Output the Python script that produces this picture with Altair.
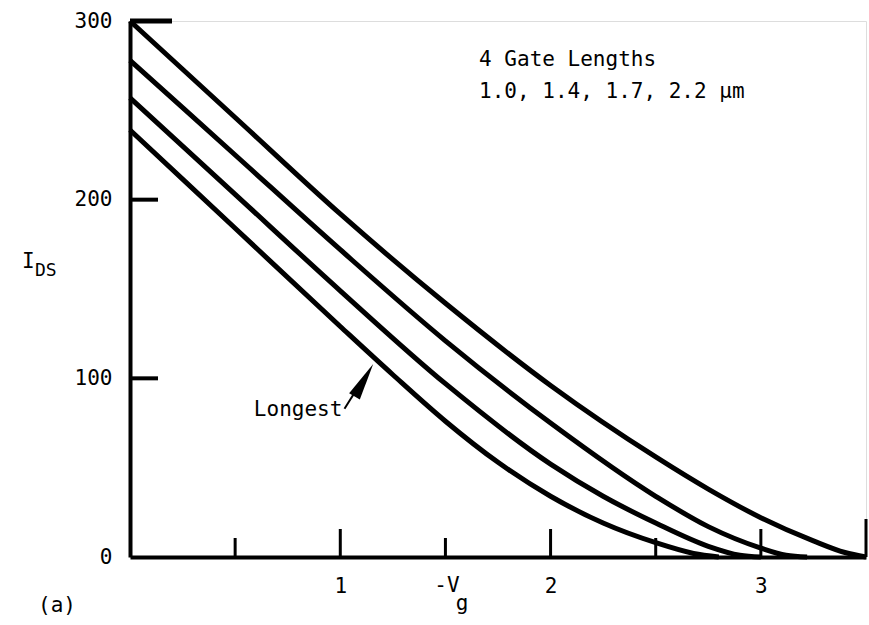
import altair as alt
import pandas as pd

# ---- data ----
gates = ["1.0", "1.4", "1.7", "2.2"]
vg_10 = [0, 0.5, 1.0, 1.5, 2.0, 2.5, 2.75, 3.0, 3.25, 3.4, 3.5]
ids_10 = [300, 246, 192, 142, 96, 56, 38, 22, 9, 2.5, 0]
vg_14 = [0, 0.5, 1.0, 1.5, 2.0, 2.5, 2.75, 3.0, 3.12, 3.22]
ids_14 = [278, 225, 172, 121, 75, 34, 17, 5, 1, 0]
vg_17 = [0, 0.5, 1.0, 1.5, 2.0, 2.25, 2.5, 2.75, 2.9, 3.0]
ids_17 = [257, 203, 149, 97, 52, 34, 19, 6, 1, 0]
vg_22 = [0, 0.5, 1.0, 1.25, 1.5, 1.75, 2.0, 2.25, 2.5, 2.68, 2.8]
ids_22 = [239, 184, 129, 102, 76, 53, 34, 19, 8, 2, 0]

x_label_vals = [1, 2, 3]
y_label_vals = [0, 100, 200, 300]
x_major_ticks = [1, 2, 3]
x_minor_ticks = [0.5, 1.5, 2.5]
x_end_tick = [3.5]
y_ticks = [100, 200]
y_top_tick = [300]

rows = []
for g, xs, ys in zip(gates, [vg_10, vg_14, vg_17, vg_22], [ids_10, ids_14, ids_17, ids_22]):
    for i, (a, b) in enumerate(zip(xs, ys)):
        rows.append({"gate": g, "vg": a, "ids": b, "k": i})
df = pd.DataFrame(rows)

W, H = 736, 536
FONT = "DejaVu Sans Mono"
FS = 21
xs_ = alt.Scale(domain=[0, 3.5], nice=False, zero=False)
ys_ = alt.Scale(domain=[0, 300], nice=False)

lines = alt.Chart(df).mark_line(color="black", strokeWidth=5, interpolate="monotone").encode(
    x=alt.X("vg:Q", scale=xs_, axis=alt.Axis(values=x_label_vals, ticks=False, grid=False, title=None,
                                              labelFontSize=FS, labelPadding=18, labelFont=FONT,
                                              labelColor="black", domainWidth=4, domainColor="black",
                                              format="d")),
    y=alt.Y("ids:Q", scale=ys_, axis=alt.Axis(values=y_label_vals, ticks=False, grid=False, title=None,
                                               labelFontSize=FS, labelPadding=18, labelFont=FONT,
                                               labelColor="black", domainWidth=4, domainColor="black",
                                               format="d")),
    detail="gate:N",
    order="k:Q",
)

def xtick(vals, length, w=3):
    return alt.Chart(pd.DataFrame({"v": vals})).mark_rule(color="black", strokeWidth=w).encode(
        x=alt.X("v:Q", scale=xs_), y=alt.value(H), y2=alt.value(H - length))

def ytick(vals, length, w=4):
    return alt.Chart(pd.DataFrame({"v": vals})).mark_rule(color="black", strokeWidth=w).encode(
        y=alt.Y("v:Q", scale=ys_), x=alt.value(0), x2=alt.value(length))

ticks = [xtick(x_major_ticks, 28), xtick(x_minor_ticks, 19), xtick(x_end_tick, 38),
         ytick(y_ticks, 28), ytick(y_top_tick, 42, 5)]

# annotations
ann = pd.DataFrame({
    "x": [1.66, 1.66],
    "y": [278, 260],
    "t": ["4 Gate Lengths", "1.0, 1.4, 1.7, 2.2 \u00b5m"],
})
ann_text = alt.Chart(ann).mark_text(align="left", baseline="middle", fontSize=FS, font=FONT,
                                    color="black").encode(
    x=alt.X("x:Q", scale=xs_), y=alt.Y("y:Q", scale=ys_), text="t:N")

longest = alt.Chart(pd.DataFrame({"x": [1.01], "y": [82], "t": ["Longest"]})).mark_text(
    align="right", baseline="middle", fontSize=FS, font=FONT, color="black").encode(
    x=alt.X("x:Q", scale=xs_), y=alt.Y("y:Q", scale=ys_), text="t:N")

arrow_line = alt.Chart(pd.DataFrame({"x": [1.02], "y": [83], "x2": [1.10], "y2": [98]})).mark_rule(
    color="black", strokeWidth=2).encode(
    x=alt.X("x:Q", scale=xs_), y=alt.Y("y:Q", scale=ys_), x2="x2:Q", y2="y2:Q")

arrow_head = alt.Chart(pd.DataFrame({"x": [1.112], "y": [99]})).mark_point(
    shape="M0,-1L0.33,1L-0.33,1Z", filled=True, color="black", opacity=1, size=1400, angle=30,
    strokeWidth=0).encode(x=alt.X("x:Q", scale=xs_), y=alt.Y("y:Q", scale=ys_))

def label(txt, x, y, size=FS, align="left"):
    return alt.Chart(pd.DataFrame({"t": [txt]})).mark_text(
        align=align, baseline="middle", fontSize=size, font=FONT, color="black").encode(
        x=alt.value(x), y=alt.value(y), text="t:N")

vg_v = label("-V", 447 - 130, 586 - 21, align="center")
vg_g = label("g", 462 - 130, 604 - 21, align="center")
ids_I = label("I", 22 - 130, 262 - 21)
ids_DS = label("DS", 35 - 130, 271 - 21, size=18)
tag = label("(a)", 38 - 130, 606 - 21)

chart = alt.layer(lines, *ticks, ann_text, longest, arrow_line, arrow_head,
                  vg_v, vg_g, ids_I, ids_DS, tag).properties(
    width=W, height=H,
    autosize=alt.AutoSizeParams(type="none"),
    padding={"left": 130, "top": 21, "right": 3, "bottom": 68},
).configure_view(stroke=None).configure(background="white")

chart.save("out.html", embed_options={"renderer": "svg", "actions": False})
